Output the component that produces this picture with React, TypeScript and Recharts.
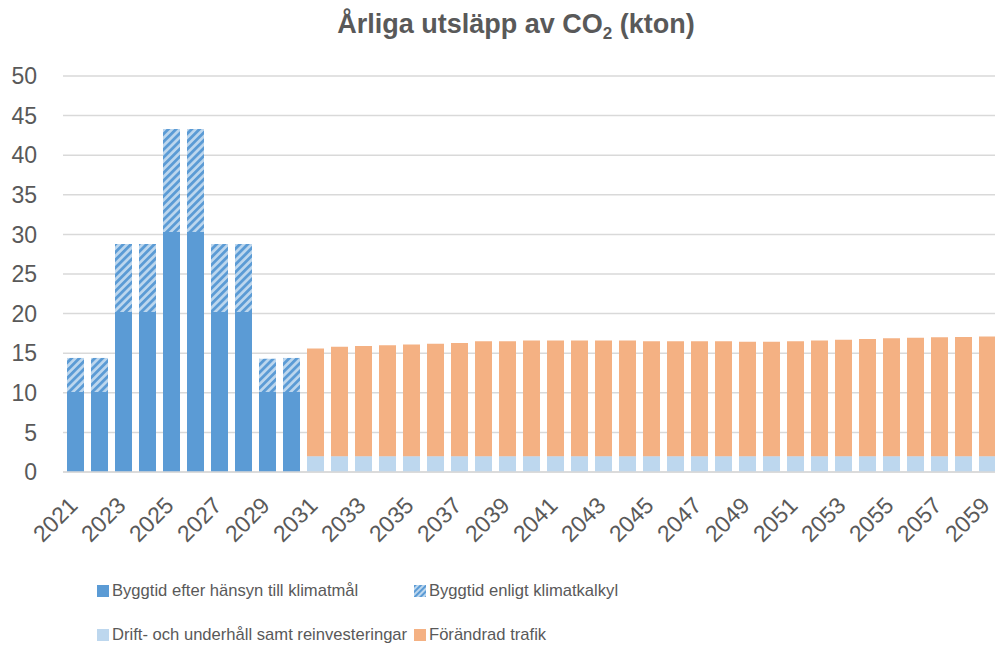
import React from "react";
import { BarChart, Bar, XAxis, YAxis, CartesianGrid } from "recharts";

const years: string[] = [
  "2021","2022","2023","2024","2025","2026","2027","2028","2029","2030",
  "2031","2032","2033","2034","2035","2036","2037","2038","2039","2040",
  "2041","2042","2043","2044","2045","2046","2047","2048","2049","2050",
  "2051","2052","2053","2054","2055","2056","2057","2058","2059",
];

const byggtidKlimatmal: number[] = [
  10.1, 10.1, 20.2, 20.2, 30.3, 30.3, 20.2, 20.2, 10.1, 10.1,
  0, 0, 0, 0, 0, 0, 0, 0, 0, 0,
  0, 0, 0, 0, 0, 0, 0, 0, 0, 0,
  0, 0, 0, 0, 0, 0, 0, 0, 0,
];

const byggtidKlimatkalkyl: number[] = [
  4.3, 4.3, 8.6, 8.6, 13.0, 13.0, 8.6, 8.6, 4.2, 4.3,
  0, 0, 0, 0, 0, 0, 0, 0, 0, 0,
  0, 0, 0, 0, 0, 0, 0, 0, 0, 0,
  0, 0, 0, 0, 0, 0, 0, 0, 0,
];

const driftUnderhall: number[] = [
  0, 0, 0, 0, 0, 0, 0, 0, 0, 0,
  2.0, 2.0, 2.0, 2.0, 2.0, 2.0, 2.0, 2.0, 2.0, 2.0,
  2.0, 2.0, 2.0, 2.0, 2.0, 2.0, 2.0, 2.0, 2.0, 2.0,
  2.0, 2.0, 2.0, 2.0, 2.0, 2.0, 2.0, 2.0, 2.0,
];

const forandradTrafik: number[] = [
  0, 0, 0, 0, 0, 0, 0, 0, 0, 0,
  13.6, 13.8, 13.9, 14.0, 14.1, 14.2, 14.3, 14.5, 14.5, 14.6,
  14.6, 14.6, 14.6, 14.6, 14.5, 14.5, 14.5, 14.5, 14.45, 14.45,
  14.5, 14.6, 14.7, 14.8, 14.9, 14.95, 15.0, 15.05, 15.1,
];

const yTicks: number[] = [0, 5, 10, 15, 20, 25, 30, 35, 40, 45, 50];

const seriesNames = {
  a: "Byggtid efter hänsyn till klimatmål",
  b: "Byggtid enligt klimatkalkyl",
  c: "Drift- och underhåll samt reinvesteringar",
  d: "Förändrad trafik",
};

const data = years.map((y, i) => ({
  year: y,
  a: byggtidKlimatmal[i],
  b: byggtidKlimatkalkyl[i],
  c: driftUnderhall[i],
  d: forandradTrafik[i],
}));

const FONT = "'Liberation Sans', Arial, sans-serif";
const TEXT = "#595959";
const BLUE = "#5B9BD5";
const LIGHT = "#BDD7EE";
const ORANGE = "#F4B183";

const XTick = (props: any) => {
  const { x, y, payload } = props;
  return (
    <text
      x={0}
      y={0}
      transform={`translate(${x + 4},${y + 35}) rotate(-45)`}
      textAnchor="end"
      fill={TEXT}
      fontSize={23}
      fontFamily={FONT}
    >
      {payload.value}
    </text>
  );
};

const LegendItem = ({ left, top, fill, label }: any) => (
  <div style={{ position: "absolute", left, top, height: 20, display: "flex", alignItems: "center" }}>
    <svg width={12} height={12} style={{ marginRight: 3 }}>
      <rect x={0} y={0} width={12} height={12} fill={fill} />
    </svg>
    <span style={{ fontSize: 16.6, lineHeight: "20px", color: TEXT, whiteSpace: "nowrap" }}>{label}</span>
  </div>
);

export default function App() {
  return (
    <div
      style={{
        position: "absolute",
        left: 0,
        top: 0,
        width: 995,
        height: 652,
        overflow: "hidden",
        background: "#fff",
        fontFamily: FONT,
      }}
    >
      <div
        style={{
          position: "absolute",
          left: 0,
          top: 10.5,
          width: 1032,
          textAlign: "center",
          fontSize: 27,
          lineHeight: "27px",
          fontWeight: "bold",
          color: TEXT,
          whiteSpace: "nowrap",
        }}
      >
        Årliga utsläpp av CO
        <span style={{ fontSize: 17, position: "relative", top: 6 }}>2</span> (kton)
      </div>
      <div style={{ position: "absolute", left: 0, top: 0 }}>
        <BarChart
          width={1000}
          height={652}
          data={data}
          margin={{ top: 76, right: 1, left: 0, bottom: 0 }}
          barSize={17}
        >
          <defs>
            <pattern
              id="hatch"
              patternUnits="userSpaceOnUse"
              width={5.5}
              height={5.5}
              patternTransform="rotate(45)"
            >
              <rect x={0} y={0} width={5.5} height={5.5} fill={LIGHT} />
              <rect x={0} y={0} width={2.8} height={5.5} fill={BLUE} />
            </pattern>
          </defs>
          <CartesianGrid vertical={false} stroke="#D9D9D9" strokeWidth={1.5} />
          <XAxis
            dataKey="year"
            interval={1}
            height={180}
            tickLine={false}
            tickSize={0}
            tickMargin={0}
            axisLine={{ stroke: "#D9D9D9", strokeWidth: 1.5 }}
            tick={<XTick />}
          />
          <YAxis
            width={63}
            domain={[0, 50]}
            ticks={yTicks}
            interval={0}
            tickLine={false}
            axisLine={false}
            tickSize={0}
            tickMargin={26}
            tick={{ fill: TEXT, fontSize: 23, fontFamily: FONT }}
          />
          <Bar dataKey="a" name={seriesNames.a} stackId="s" fill={BLUE} isAnimationActive={false} />
          <Bar dataKey="b" name={seriesNames.b} stackId="s" fill="url(#hatch)" isAnimationActive={false} />
          <Bar dataKey="c" name={seriesNames.c} stackId="s" fill={LIGHT} isAnimationActive={false} />
          <Bar dataKey="d" name={seriesNames.d} stackId="s" fill={ORANGE} isAnimationActive={false} />
        </BarChart>
      </div>
      <LegendItem left={97} top={581} fill={BLUE} label={seriesNames.a} />
      <LegendItem left={414} top={581} fill="url(#hatchLegend)" label={seriesNames.b} />
      <svg width={0} height={0} style={{ position: "absolute" }}>
        <defs>
          <pattern
            id="hatchLegend"
            patternUnits="userSpaceOnUse"
            width={4}
            height={4}
            patternTransform="rotate(45)"
          >
            <rect x={0} y={0} width={4} height={4} fill={LIGHT} />
            <rect x={0} y={0} width={2} height={4} fill={BLUE} />
          </pattern>
        </defs>
      </svg>
      <LegendItem left={97} top={625} fill={LIGHT} label={seriesNames.c} />
      <LegendItem left={414} top={625} fill={ORANGE} label={seriesNames.d} />
    </div>
  );
}
